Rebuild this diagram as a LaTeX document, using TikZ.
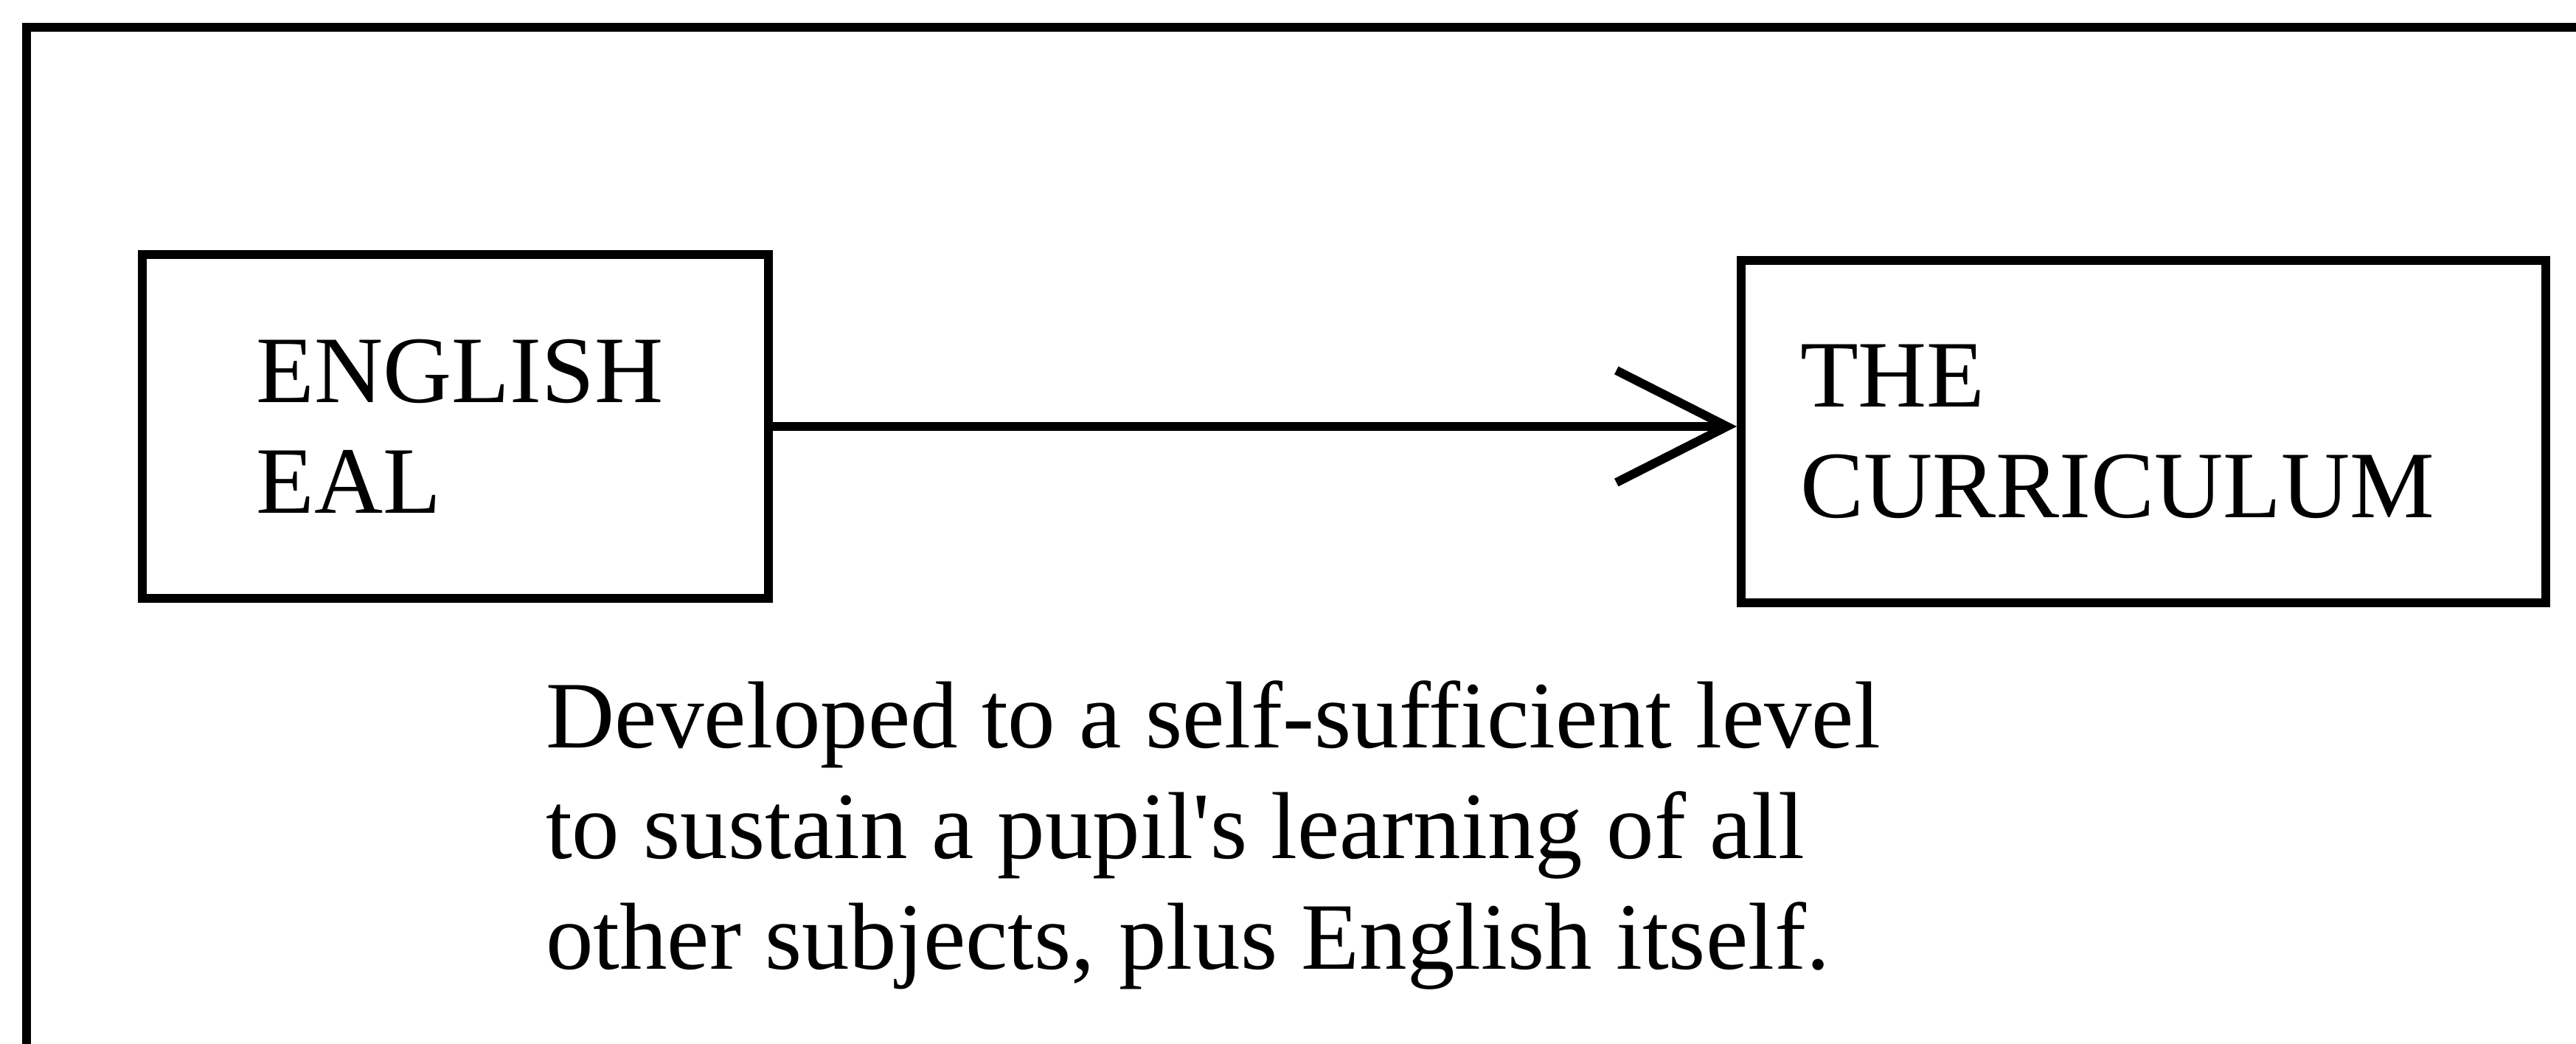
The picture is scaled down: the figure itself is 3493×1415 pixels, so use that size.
\documentclass[tikz,border=0pt]{standalone}
\usepackage{fontspec}
\setmainfont{Liberation Serif}
\usetikzlibrary{arrows.meta}

\begin{document}
\begin{tikzpicture}[x=0.1pt, y=-0.1pt, line width=1.2pt, font=\fontsize{12.9pt}{15pt}\selectfont,
  box/.style={draw, align=left, inner ysep=0pt},
  link/.style={-{Straight Barb[length=15pt, width=15.2pt]}}]
  \useasboundingbox (0,0) rectangle (3493,1415);
  % frame, cut off at the right and at the bottom
  \draw (36,1415) -- (36,37) -- (3493,37);
  \node[box, text width=54pt, inner xsep=15.45pt, minimum height=46.7pt] (eal) at (617.5,578) {ENGLISH\\EAL};
  \node[box, text width=93.1pt, inner xsep=8pt, minimum height=46.4pt] (curr) at (2906.5,585) {THE\\CURRICULUM};
  \draw[link] (eal.east) -- (eal.east -| curr.west);
  \node[anchor=base west, align=left, inner sep=0pt] (note) at (734,1313)
    {Developed to a self-sufficient level\\to sustain a pupil\textquotesingle s learning of all\\other subjects, plus English itself.};
\end{tikzpicture}
\end{document}
